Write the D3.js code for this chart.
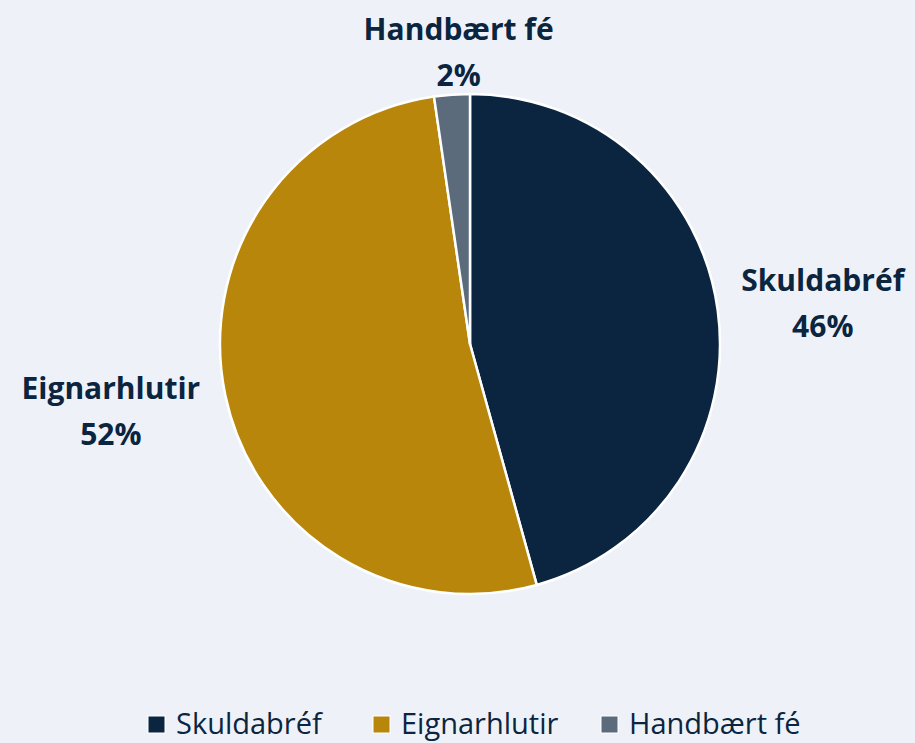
<!DOCTYPE html>
<html>
<head>
<meta charset="utf-8">
<script src="https://cdn.jsdelivr.net/npm/d3@7"></script>
<style>
  body { margin: 0; background: #eef2f8; }
  svg { display: block; }
</style>
</head>
<body>
<div id="chart"></div>
<script>
const categories = ['Skuldabréf', 'Eignarhlutir', 'Handbært fé']
const values     = [45.7, 52.0, 2.3]
const labels     = ['46%', '52%', '2%']
const colors     = ['#0b2540', '#b8860b', '#5b6b7c']

const width  = 915,
      height = 743,
      center = { x: 470, y: 344 },
      radius = 250,
      font   = "'Open Sans', sans-serif",
      ink    = '#0b2540'

// label placement: distance from centre along the slice mid angle, plus a small nudge
const labelRadius = [355, 367, 282]
const labelNudge  = [[1, 18], [0, 2], [9, 0]]

const svg = d3.select('#chart')
  .append('svg')
  .attr('width', width)
  .attr('height', height)

svg.append('rect')
  .attr('width', width)
  .attr('height', height)
  .attr('fill', '#eef2f8')

const data = categories.map((c, i) => ({ name: c, value: values[i], label: labels[i] }))

const pie = d3.pie()
  .value(d => d.value)
  .sort(null)

const arc = d3.arc()
  .innerRadius(0)
  .outerRadius(radius)

const color = d3.scaleOrdinal()
  .domain(categories)
  .range(colors)

const g = svg.append('g')
  .attr('transform', `translate(${center.x}, ${center.y})`)

const arcs = pie(data)

g.selectAll('path')
  .data(arcs)
  .join('path')
    .attr('d', arc)
    .attr('fill', d => color(d.data.name))
    .attr('stroke', '#ffffff')
    .attr('stroke-width', 2.5)
    .attr('stroke-linejoin', 'round')

// data labels outside the pie
const lbl = g.selectAll('.data-label')
  .data(arcs)
  .join('text')
    .attr('class', 'data-label')
    .attr('text-anchor', 'middle')
    .attr('font-family', font)
    .attr('font-weight', 700)
    .attr('font-size', 30)
    .attr('fill', ink)
    .attr('transform', (d, i) => {
      const r = labelRadius[i]
      const [x, y] = d3.arc().innerRadius(r).outerRadius(r).centroid(d)
      return `translate(${x + labelNudge[i][0]}, ${y + labelNudge[i][1]})`
    })

lbl.append('tspan')
  .attr('x', 0)
  .attr('y', -23)
  .text(d => d.data.name)
lbl.append('tspan')
  .attr('x', 0)
  .attr('y', 23)
  .text(d => d.data.label)

// legend (kept just above the bottom edge so descenders stay visible)
const legend = svg.append('g')
  .attr('class', 'legend')
  .attr('transform', 'translate(0, 734)')

const legendX = [148, 373, 601]

const item = legend.selectAll('g')
  .data(categories)
  .join('g')
    .attr('transform', (d, i) => `translate(${legendX[i]}, 0)`)

item.append('rect')
  .attr('x', 0)
  .attr('y', -18)
  .attr('width', 17)
  .attr('height', 17)
  .attr('fill', d => color(d))
  .attr('stroke', '#ffffff')
  .attr('stroke-width', 1)

item.append('text')
  .attr('x', 28)
  .attr('y', 0)
  .attr('font-family', font)
  .attr('font-size', 29)
  .attr('fill', ink)
  .text(d => d)
</script>
</body>
</html>
